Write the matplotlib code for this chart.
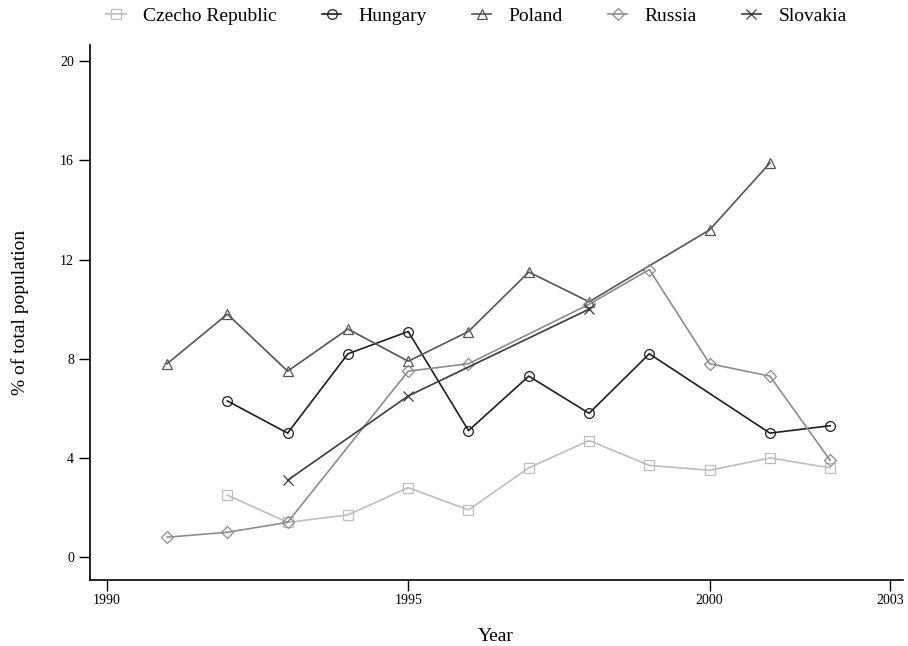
import matplotlib.pyplot as plt
import numpy as np

plt.rcParams['font.family'] = ['Liberation Serif', 'DejaVu Serif']

years = np.arange(1991, 2003)
nan = np.nan

czech = [nan, 2.5, 1.4, 1.7, 2.8, 1.9, 3.6, 4.7, 3.7, 3.5, 4.0, 3.6]
hungary = [nan, 6.3, 5.0, 8.2, 9.1, 5.1, 7.3, 5.8, 8.2, nan, 5.0, 5.3]
poland = [7.8, 9.8, 7.5, 9.2, 7.9, 9.1, 11.5, 10.3, nan, 13.2, 15.9, nan]
russia = [0.8, 1.0, 1.4, nan, 7.5, 7.8, nan, 10.2, 11.6, 7.8, 7.3, 3.9]
slovakia = [nan, nan, 3.1, nan, 6.5, nan, nan, 10.0, nan, nan, nan, nan]

series = [
    ("Czecho Republic", czech, "#bdbdbd", "s"),
    ("Hungary", hungary, "#1e1e1e", "o"),
    ("Poland", poland, "#555555", "^"),
    ("Russia", russia, "#8c8c8c", "D"),
    ("Slovakia", slovakia, "#3c3c3c", "x"),
]

fig = plt.figure(figsize=(9.08, 6.46), dpi=100)
ax = fig.add_axes([0.099, 0.102, 0.895, 0.828])

for name, vals, col, mk in series:
    vals = np.array(vals, dtype=float)
    ok = ~np.isnan(vals)
    ms = 6 if mk == "D" else 7
    ax.plot(years[ok], vals[ok], color=col, marker=mk, markersize=ms,
            markerfacecolor='none', markeredgecolor=col, markeredgewidth=0.9,
            linewidth=1.2, label=name)

ax.set_xlim(1989.72, 2003.2)
ax.set_ylim(-0.93, 20.65)
ax.set_xticks([1990, 1995, 2000, 2003])
ax.set_yticks([0, 4, 8, 12, 16, 20])
ax.tick_params(direction='out', length=8, width=1, labelsize=10, colors='black')
ax.tick_params(axis='x', pad=2)
for s in ['top', 'right']:
    ax.spines[s].set_visible(False)
ax.spines['left'].set_linewidth(1.2)
ax.spines['bottom'].set_linewidth(1.2)

ax.set_xlabel("Year", fontsize=14, labelpad=15)
ax.set_ylabel("% of total population", fontsize=14, labelpad=22)

fig.legend(loc='upper center', bbox_to_anchor=(0.525, 1.016), ncol=5,
           frameon=False, fontsize=14, handlelength=1.0, columnspacing=2.3,
           handletextpad=0.9)

fig.savefig("out.png", dpi=100)
